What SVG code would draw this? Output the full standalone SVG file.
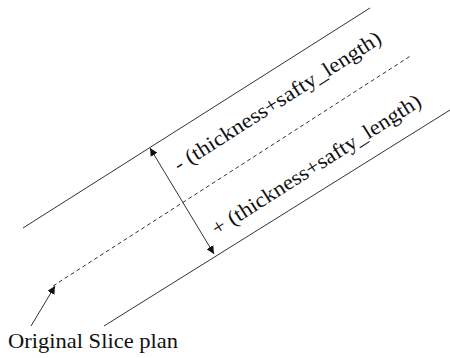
<svg xmlns="http://www.w3.org/2000/svg" width="450" height="358" viewBox="0 0 450 358">
  <style>
    text { font-family: 'Liberation Serif', 'DejaVu Serif', 'Times New Roman', serif; fill: #111; }
    .edge { stroke: #333; stroke-width: 1; fill: none; }
    .plan { stroke: #333; stroke-width: 1; fill: none; stroke-dasharray: 4 3; }
  </style>
  <defs>
    <marker id="head" viewBox="0 0 10 10" refX="10" refY="5" markerWidth="8" markerHeight="8" markerUnits="userSpaceOnUse" orient="auto-start-reverse">
      <path d="M0,0 L10,5 L0,10 Z" fill="#111"/>
    </marker>
  </defs>

  <g id="labels">
    <text font-family="Liberation Serif" font-size="21" transform="translate(179,172) rotate(-32.5)" textLength="242" lengthAdjust="spacingAndGlyphs">- (thickness+safty_length)</text>
    <text font-family="Liberation Serif" font-size="21" transform="translate(217,236) rotate(-32.5)" textLength="244" lengthAdjust="spacingAndGlyphs">+ (thickness+safty_length)</text>
    <text font-family="Liberation Serif" font-size="21" x="8" y="348" textLength="170" lengthAdjust="spacingAndGlyphs">Original Slice plan</text>
  </g>

  <!-- offset boundaries and the slice plane -->
  <g id="upper-bound">
    <line class="edge" x1="23" y1="228" x2="370" y2="8"/>
  </g>
  <g id="slice-plan">
    <line class="plan" x1="53" y1="286" x2="412" y2="55"/>
  </g>
  <g id="lower-bound">
    <line class="edge" x1="104" y1="326" x2="450" y2="110"/>
  </g>

  <g id="connectors">
    <line class="edge" x1="150" y1="148" x2="214" y2="254" marker-start="url(#head)" marker-end="url(#head)"/>
    <line class="edge" x1="31" y1="326" x2="55" y2="286" marker-end="url(#head)"/>
  </g>
</svg>
